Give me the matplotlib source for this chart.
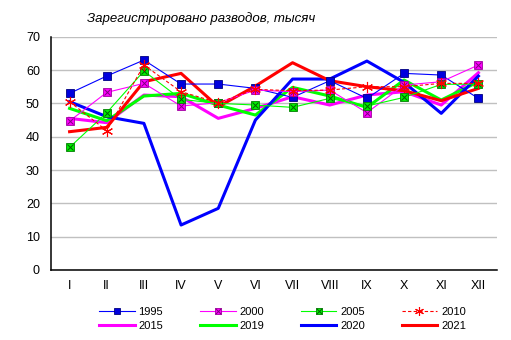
import matplotlib
matplotlib.use('Agg')
import matplotlib.pyplot as plt

plt.rcParams['font.family'] = ['Liberation Sans', 'DejaVu Sans']

# Months
months = ['I', 'II', 'III', 'IV', 'V', 'VI', 'VII', 'VIII', 'IX', 'X', 'XI', 'XII']

# Registered divorces, thousands
y1995 = [53.0, 58.2, 63.0, 55.8, 55.8, 54.5, 51.8, 56.8, 51.5, 59.0, 58.5, 51.5]
y2000 = [44.7, 53.3, 56.0, 49.2, 50.2, 54.0, 53.5, 54.0, 47.2, 55.5, 56.5, 61.5]
y2005 = [36.8, 47.2, 59.7, 51.2, 50.0, 49.5, 48.8, 51.5, 49.2, 51.8, 55.7, 55.8]
y2010 = [50.5, 41.8, 61.5, 53.5, 50.2, 54.2, 53.8, 54.0, 55.0, 55.0, 56.0, 56.0]
y2015 = [45.5, 44.2, 52.5, 52.0, 45.5, 48.5, 52.0, 49.5, 52.5, 53.5, 49.5, 59.2]
y2019 = [48.5, 44.8, 52.2, 53.0, 49.5, 46.5, 54.8, 52.2, 48.8, 57.0, 51.0, 56.5]
y2020 = [50.5, 46.0, 44.0, 13.5, 18.5, 45.0, 57.3, 57.3, 62.7, 56.3, 47.0, 58.2]
y2021 = [41.5, 42.8, 56.5, 59.0, 49.0, 55.2, 62.2, 56.8, 55.0, 53.8, 50.8, 54.5]

x = list(range(len(months)))

fig = plt.figure(figsize=(5.11, 3.4), dpi=100)
ax = fig.add_axes([0.0998, 0.2059, 0.8728, 0.6861])

# thick lines (no markers)
l2015, = ax.plot(x, y2015, color='#FF00FF', lw=2.2, zorder=2)
l2019, = ax.plot(x, y2019, color='#00FF00', lw=2.2, zorder=2)
l2020, = ax.plot(x, y2020, color='#0000FF', lw=2.2, zorder=2)
l2021, = ax.plot(x, y2021, color='#FF0000', lw=2.2, zorder=2.5)

# thin lines with markers
l1995, = ax.plot(x, y1995, color='#0000FF', lw=0.8, marker='s', ms=6,
                 mfc='#0000DD', mec='#000080', mew=0.6, zorder=3)
l2000, = ax.plot(x, y2000, color='#FF00FF', lw=0.8, marker='s', ms=6,
                 mfc='#FF00FF', mec='#A000A0', mew=0.6, zorder=3)
m2000, = ax.plot(x, y2000, ls='none', marker='x', ms=5, mec='#800080',
                 mew=0.7, zorder=3.1)
l2005, = ax.plot(x, y2005, color='#00FF00', lw=0.8, marker='s', ms=6,
                 mfc='#00EE00', mec='#008000', mew=0.6, zorder=3)
m2005, = ax.plot(x, y2005, ls='none', marker='x', ms=5, mec='#006000',
                 mew=0.7, zorder=3.1)
l2010, = ax.plot(x, y2010, color='#FF0000', lw=0.8, ls=(0, (3, 2)),
                 marker=(6, 2, 0), ms=8, mec='#FF0000', mew=0.8, zorder=3.2)

ax.set_xlim(-0.5, 11.5)
ax.set_ylim(0, 70)
ax.set_yticks(range(0, 71, 10))
ax.set_xticks(x)
ax.set_xticklabels(months)
ax.tick_params(axis='both', length=0, labelsize=9, colors='#000000')
ax.tick_params(axis='x', pad=7)
ax.tick_params(axis='y', pad=8)
ax.yaxis.grid(True, color='#C0C0C0', lw=1)
ax.set_axisbelow(True)
for s in ['top', 'right']:
    ax.spines[s].set_visible(False)
for s in ['left', 'bottom']:
    ax.spines[s].set_linewidth(1.1)

fig.text(0.17, 0.945, 'Зарегистрировано разводов, тысяч', fontsize=9.5,
         style='italic', ha='left', va='center')

# legend is filled column by column, so interleave to get row order
handles = [l1995, l2015, (l2000, m2000), l2019, (l2005, m2005), l2020, l2010, l2021]
labels = ['1995', '2015', '2000', '2019', '2005', '2020', '2010', '2021']
fig.legend(handles, labels, ncol=4, loc='center', bbox_to_anchor=(0.553, 0.062),
           frameon=False, fontsize=8, handlelength=3.2, columnspacing=3.3,
           handletextpad=0.35, labelspacing=0.35, markerscale=0.8)

fig.savefig('out.png', dpi=100)
